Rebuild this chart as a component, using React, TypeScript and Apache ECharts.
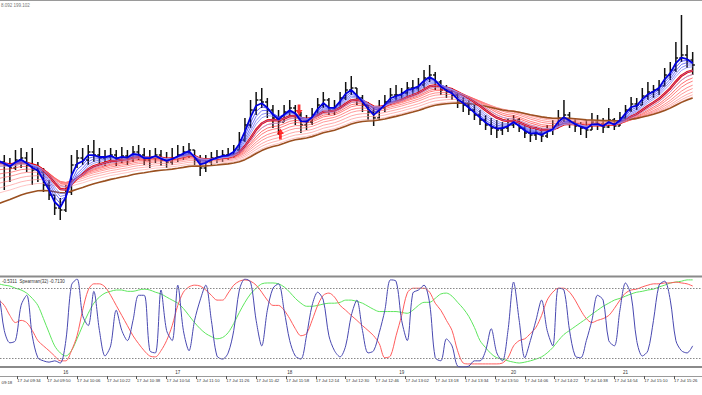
import React, { useEffect, useRef } from "react";
import * as echarts from "echarts";

// ---- time layout: minute 0 = 17 Jul 09:18, one bar every 3 minutes ----
const SESSION_START_H = 9;
const SESSION_START_M = 18;
const BAR_MINUTES = 3;
const AXIS_MIN = 6.7; // minute shown at the left edge
const AXIS_MAX = 383;
const timeTickMinutes = [16, 32, 48, 64, 80, 96, 112, 128, 144, 160, 176, 192, 208, 224, 240, 256, 272, 288, 304, 320, 336, 352, 368];
const cutTimeLabel = "09:18";

// ---- price bars ----
const highs = [
  197.90,197.90,197.88,197.85,197.82,197.90,197.92,197.88,197.92,197.78,
  197.72,197.60,197.45,197.42,197.55,197.85,197.90,197.92,197.95,198.00,
  197.92,197.90,197.92,197.90,197.93,197.90,197.94,197.95,197.92,197.90,
  197.92,197.90,197.88,197.92,197.95,197.94,197.97,197.90,197.85,197.85,
  197.88,197.90,197.90,197.92,197.95,198.08,198.22,198.40,198.48,198.52,
  198.42,198.35,198.30,198.35,198.40,198.35,198.28,198.25,198.32,198.42,
  198.48,198.42,198.40,198.48,198.58,198.64,198.52,198.45,198.38,198.32,
  198.40,198.45,198.52,198.55,198.52,198.58,198.60,198.62,198.70,198.75,
  198.68,198.60,198.55,198.52,198.48,198.43,198.40,198.35,198.30,198.25,
  198.22,198.20,198.18,198.22,198.25,198.22,198.15,198.12,198.13,198.12,
  198.15,198.20,198.30,198.40,198.28,198.22,198.18,198.20,198.27,198.25,
  198.22,198.32,198.22,198.28,198.35,198.43,198.42,198.52,198.58,198.55,
  198.60,198.72,198.78,198.98,199.25,198.95,198.88,
];
const lows = [
  197.70,197.68,197.65,197.50,197.58,197.70,197.72,197.68,197.55,197.58,
  197.48,197.40,197.25,197.20,197.28,197.45,197.72,197.75,197.75,197.78,
  197.75,197.74,197.77,197.74,197.77,197.75,197.78,197.80,197.75,197.72,
  197.77,197.74,197.72,197.75,197.78,197.80,197.82,197.75,197.64,197.68,
  197.75,197.77,197.78,197.80,197.82,197.88,197.98,198.12,198.25,198.32,
  198.22,198.12,198.05,198.20,198.24,198.15,198.07,198.10,198.15,198.25,
  198.32,198.25,198.25,198.32,198.40,198.45,198.35,198.28,198.20,198.14,
  198.20,198.28,198.35,198.38,198.40,198.42,198.45,198.48,198.52,198.58,
  198.50,198.45,198.42,198.40,198.32,198.28,198.25,198.20,198.15,198.10,
  198.05,198.02,198.05,198.08,198.12,198.08,198.02,197.98,198.00,197.98,
  198.02,198.05,198.12,198.18,198.12,198.08,198.05,198.02,198.10,198.10,
  198.07,198.12,198.10,198.14,198.20,198.28,198.30,198.35,198.40,198.42,
  198.45,198.55,198.60,198.68,198.78,198.72,198.65,
];
const closes = [
  197.80,197.82,197.78,197.75,197.72,197.80,197.82,197.75,197.70,197.68,
  197.55,197.45,197.32,197.30,197.48,197.75,197.82,197.80,197.88,197.85,
  197.82,197.83,197.85,197.80,197.84,197.82,197.88,197.85,197.80,197.82,
  197.85,197.80,197.78,197.82,197.85,197.88,197.90,197.80,197.72,197.78,
  197.82,197.83,197.85,197.85,197.90,198.00,198.15,198.30,198.40,198.38,
  198.30,198.22,198.18,198.28,198.32,198.25,198.15,198.18,198.25,198.35,
  198.40,198.30,198.32,198.42,198.50,198.52,198.42,198.35,198.28,198.22,
  198.32,198.38,198.45,198.45,198.47,198.52,198.52,198.55,198.62,198.65,
  198.58,198.50,198.48,198.45,198.38,198.35,198.30,198.25,198.20,198.15,
  198.12,198.10,198.12,198.15,198.20,198.12,198.07,198.05,198.07,198.04,
  198.10,198.12,198.22,198.25,198.18,198.14,198.12,198.10,198.18,198.16,
  198.13,198.20,198.14,198.22,198.30,198.36,198.35,198.44,198.48,198.50,
  198.54,198.65,198.70,198.82,198.85,198.80,198.75,
];

// ---- Spearman oscillator lines ----
const spearmanFast = [
  0.52,0.75,0.63,-0.17,-0.45,-0.40,0.40,0.63,-0.29,-0.79,
  -0.86,-0.89,-0.86,-0.91,-0.40,0.86,1.00,0.17,-0.06,0.72,
  -0.17,-0.75,-0.52,0.29,-0.17,-0.40,0.06,0.63,0.63,-0.63,
  -0.68,0.75,-0.17,-0.40,0.86,-0.17,-0.63,0.06,0.52,0.86,
  0.06,-0.75,-0.82,-0.68,-0.17,0.75,1.00,0.93,0.06,-0.52,
  0.29,0.79,0.89,0.29,-0.40,-0.75,-0.82,-0.29,0.40,0.70,
  0.52,-0.29,-0.63,-0.77,-0.52,0.17,0.52,-0.17,-0.68,-0.63,
  -0.22,0.29,0.98,0.95,0.06,-0.40,0.68,0.75,0.86,0.45,
  -0.79,-0.86,-0.36,-0.52,-0.98,-1.00,-0.98,-0.86,-0.86,-0.63,
  -0.13,-0.68,-0.86,-0.17,0.93,0.06,-0.79,-0.40,0.06,0.52,
  -0.17,-0.52,0.79,0.75,-0.17,-0.75,-0.79,-0.40,0.06,0.63,
  0.52,-0.40,-0.52,0.29,0.91,0.63,-0.40,-0.75,-0.63,0.06,
  0.86,0.95,0.52,-0.40,-0.63,-0.68,-0.52,
];
const spearmanMid = [
  0.63,0.56,0.52,0.40,0.17,0.01,0.06,0.01,-0.17,-0.40,
  -0.52,-0.63,-0.75,-0.86,-0.86,-0.63,-0.29,0.29,0.75,0.89,
  0.89,0.82,0.63,0.40,0.17,-0.06,-0.29,-0.47,-0.63,-0.75,
  -0.77,-0.63,-0.40,-0.06,0.40,0.70,0.82,0.86,0.84,0.75,
  0.63,0.52,0.52,0.68,0.86,0.95,0.98,0.95,0.86,0.70,
  0.52,0.40,0.40,0.29,0.10,-0.13,-0.29,-0.24,0.06,0.40,
  0.63,0.68,0.59,0.40,0.29,0.17,0.06,-0.06,-0.17,-0.29,
  -0.47,-0.79,-0.75,-0.29,0.17,0.68,0.79,0.79,0.79,0.70,
  0.45,0.29,0.06,-0.17,-0.63,-0.91,-0.93,-0.93,-0.93,-0.93,
  -0.93,-0.93,-0.91,-0.79,-0.52,-0.40,-0.36,-0.24,-0.10,0.17,
  0.52,0.70,0.79,0.79,0.70,0.52,0.29,0.10,0.01,0.06,
  0.10,0.17,0.33,0.52,0.68,0.75,0.77,0.82,0.86,0.89,
  0.89,0.91,0.91,0.93,0.91,0.89,0.84,
];
const spearmanSlow = [
  0.91,0.91,0.89,0.86,0.84,0.79,0.75,0.68,0.56,0.40,
  0.10,-0.22,-0.52,-0.68,-0.75,-0.63,-0.36,-0.06,0.22,0.45,
  0.59,0.68,0.72,0.75,0.75,0.72,0.72,0.75,0.77,0.75,
  0.70,0.66,0.59,0.52,0.45,0.33,0.17,0.01,-0.13,-0.24,
  -0.31,-0.36,-0.33,-0.22,-0.01,0.24,0.47,0.66,0.79,0.89,
  0.91,0.91,0.89,0.82,0.70,0.56,0.45,0.38,0.38,0.40,
  0.43,0.45,0.45,0.47,0.52,0.52,0.49,0.45,0.38,0.31,
  0.26,0.26,0.26,0.26,0.24,0.22,0.29,0.40,0.47,0.47,
  0.56,0.66,0.68,0.61,0.47,0.33,0.15,-0.10,-0.40,-0.56,
  -0.70,-0.79,-0.82,-0.86,-0.89,-0.91,-0.89,-0.86,-0.82,-0.77,
  -0.68,-0.56,-0.40,-0.26,-0.17,-0.08,0.01,0.10,0.20,0.29,
  0.38,0.45,0.52,0.56,0.61,0.66,0.70,0.72,0.75,0.77,
  0.82,0.86,0.91,0.93,0.95,0.98,0.98,
];
const spearmanLevels = [0.8, -0.8];

// ---- hour separators labelled in the lower strip ----
const dayMarkMinutes = [42, 102, 162, 222, 282, 342];
const dayMarkLabels = ["16", "17", "18", "19", "20", "21"];

// ---- signal arrows: [minute, price] ----
const buyArrows = [[157, 198.06]];
const sellArrows = [[167, 198.30]];

// ---- moving-average ribbons (periods in bars, seeds = value at first bar) ----
const fastPeriods = [3, 4, 5, 6, 8, 10];
const fastSeeds = [197.78, 197.76, 197.74, 197.72, 197.70, 197.68];
const leadPeriod = 2;
const leadSeed = 197.80;
const slowPeriods = [10, 12, 14, 17, 20, 24, 28, 32];
const slowSeeds = [197.74, 197.70, 197.65, 197.60, 197.55, 197.50, 197.45, 197.40];
const signalPeriod = 8;
const signalSeed = 197.74;
const trendPeriod = 34;
const trendSeed = 197.28;

const headerText = "8.092 199.102";
const indicatorText = "-0.5311  Spearman(32) -0.7130";

const fastColors = ["#1c1cf6", "#3a3af4", "#5858f2", "#7474f0", "#9090f0", "#aaaaf2"];
const slowColors = ["#ff1a1a", "#ff3030", "#ff4646", "#ff5a5a", "#ff6e6e", "#ff8282", "#ff9696", "#ffaaaa"];

function ema(values: number[], period: number, seed: number): number[] {
  const a = 2 / (period + 1);
  let e = seed;
  return values.map((v) => {
    e = e + a * (v - e);
    return e;
  });
}

function fmtTime(m: number): string {
  const total = SESSION_START_H * 60 + SESSION_START_M + Math.round(m);
  const h = Math.floor(total / 60);
  const mm = total % 60;
  return "17 Jul " + String(h).padStart(2, "0") + ":" + String(mm).padStart(2, "0");
}

export default function App() {
  const ref = useRef<HTMLDivElement>(null);

  useEffect(() => {
    document.body.style.margin = "0";
    if (!ref.current) return;
    const chart = echarts.init(ref.current, undefined, { renderer: "svg" });

    const times = closes.map((_, i) => i * BAR_MINUTES);
    const ohlc = closes.map((c, i) => {
      const o = i === 0 ? c : closes[i - 1];
      const h = Math.max(highs[i], o, c);
      const l = Math.min(lows[i], o, c);
      return [times[i], o, h, l, c];
    });

    const pair = (arr: number[]) => arr.map((v, i) => [times[i], v]);

    const series: any[] = [];

    series.push({
      type: "custom",
      xAxisIndex: 0,
      yAxisIndex: 0,
      z: 1,
      silent: true,
      clip: true,
      data: ohlc,
      renderItem: (params: any, api: any) => {
        const x = api.value(0);
        const pO = api.coord([x, api.value(1)]);
        const pH = api.coord([x, api.value(2)]);
        const pL = api.coord([x, api.value(3)]);
        const pC = api.coord([x, api.value(4)]);
        const st = { stroke: "#111", lineWidth: 1.5 };
        return {
          type: "group",
          children: [
            { type: "line", shape: { x1: pH[0], y1: pH[1], x2: pL[0], y2: pL[1] }, style: st },
            { type: "line", shape: { x1: pO[0] - 2.2, y1: pO[1], x2: pO[0], y2: pO[1] }, style: st },
            { type: "line", shape: { x1: pC[0], y1: pC[1], x2: pC[0] + 2.2, y2: pC[1] }, style: st },
          ],
        };
      },
    });

    slowPeriods.forEach((p, k) => {
      series.push({
        type: "line",
        name: "slow" + p,
        xAxisIndex: 0,
        yAxisIndex: 0,
        z: 2,
        symbol: "none",
        silent: true,
        data: pair(ema(closes, p, slowSeeds[k])),
        lineStyle: { color: slowColors[k], width: 0.7 },
      });
    });

    series.push({
      type: "line",
      name: "trend",
      xAxisIndex: 0,
      yAxisIndex: 0,
      z: 3,
      symbol: "none",
      silent: true,
      data: pair(ema(closes, trendPeriod, trendSeed)),
      lineStyle: { color: "#9a5020", width: 1.6 },
    });

    series.push({
      type: "line",
      name: "signal",
      xAxisIndex: 0,
      yAxisIndex: 0,
      z: 4,
      symbol: "none",
      silent: true,
      data: pair(ema(closes, signalPeriod, signalSeed)),
      lineStyle: { color: "#ee0000", width: 2.4 },
    });

    fastPeriods.forEach((p, k) => {
      series.push({
        type: "line",
        name: "fast" + p,
        xAxisIndex: 0,
        yAxisIndex: 0,
        z: 5,
        symbol: "none",
        silent: true,
        data: pair(ema(closes, p, fastSeeds[k])),
        lineStyle: { color: fastColors[k], width: 0.7 },
      });
    });

    series.push({
      type: "line",
      name: "lead",
      xAxisIndex: 0,
      yAxisIndex: 0,
      z: 6,
      symbol: "none",
      silent: true,
      data: pair(ema(closes, leadPeriod, leadSeed)),
      lineStyle: { color: "#0000e0", width: 1.8 },
    });

    series.push({
      type: "scatter",
      xAxisIndex: 0,
      yAxisIndex: 0,
      z: 7,
      silent: true,
      symbol: "path://M5,0 L10,5 L7,5 L7,10 L3,10 L3,5 L0,5 Z",
      symbolSize: [7, 11],
      itemStyle: { color: "#ff0000" },
      data: buyArrows,
    });
    series.push({
      type: "scatter",
      xAxisIndex: 0,
      yAxisIndex: 0,
      z: 7,
      silent: true,
      symbol: "path://M3,0 L7,0 L7,5 L10,5 L5,10 L0,5 L3,5 Z",
      symbolSize: [7, 11],
      itemStyle: { color: "#ff0000" },
      data: sellArrows,
    });

    series.push({
      type: "line",
      name: "spearmanSlow",
      xAxisIndex: 1,
      yAxisIndex: 1,
      symbol: "none",
      silent: true,
      smooth: 0.3,
      data: pair(spearmanSlow),
      lineStyle: { color: "#5ee65e", width: 1 },
      markLine: {
        silent: true,
        symbol: "none",
        label: { show: false },
        lineStyle: { color: "#888", type: [1.5, 1.5], width: 1 },
        data: spearmanLevels.map((v) => ({ yAxis: v })),
      },
    });
    series.push({
      type: "line",
      name: "spearmanMid",
      xAxisIndex: 1,
      yAxisIndex: 1,
      symbol: "none",
      silent: true,
      smooth: 0.3,
      data: pair(spearmanMid),
      lineStyle: { color: "#ff5c5c", width: 1 },
    });
    series.push({
      type: "line",
      name: "spearmanFast",
      xAxisIndex: 1,
      yAxisIndex: 1,
      symbol: "none",
      silent: true,
      smooth: 0.3,
      data: pair(spearmanFast),
      lineStyle: { color: "#4848b0", width: 1 },
    });

    const labelFont = { fontFamily: "Liberation Sans", color: "#333" };

    chart.setOption({
      animation: false,
      backgroundColor: "#ffffff",
      grid: [
        { left: 0, right: 0, top: 0, height: 274 },
        { left: 0, right: 0, top: 279, height: 88 },
      ],
      xAxis: [
        { gridIndex: 0, type: "value", min: AXIS_MIN, max: AXIS_MAX, show: false },
        {
          gridIndex: 1,
          type: "value",
          min: AXIS_MIN,
          max: AXIS_MAX,
          position: "bottom",
          axisLine: { show: true, onZero: false, lineStyle: { color: "#8a8a8a", width: 2 } },
          axisTick: { show: false },
          splitLine: { show: false },
          axisLabel: {
            customValues: dayMarkMinutes,
            formatter: (v: number) => {
              const k = dayMarkMinutes.indexOf(Math.round(v));
              return k >= 0 ? dayMarkLabels[k] : "";
            },
            fontSize: 4.5,
            margin: 2.5,
            ...labelFont,
          },
        },
        {
          gridIndex: 1,
          type: "value",
          min: AXIS_MIN,
          max: AXIS_MAX,
          position: "bottom",
          offset: 9,
          axisLine: { show: true, onZero: false, lineStyle: { color: "#9a9a9a", width: 1 } },
          axisTick: { show: true, customValues: timeTickMinutes, length: 3, lineStyle: { color: "#555", width: 1 } },
          splitLine: { show: false },
          axisLabel: {
            customValues: timeTickMinutes,
            formatter: (v: number) => fmtTime(v),
            fontSize: 4.3,
            margin: 2,
            align: "left",
            ...labelFont,
          },
        },
      ],
      yAxis: [
        { gridIndex: 0, type: "value", min: 196.66, max: 199.40, show: false },
        { gridIndex: 1, type: "value", min: -1, max: 1, show: false },
      ],
      graphic: [
        { type: "rect", shape: { x: 0, y: 0, width: 702, height: 1 }, style: { fill: "#9a9a9a" }, silent: true },
        { type: "rect", shape: { x: 0, y: 275.5, width: 702, height: 2 }, style: { fill: "#8a8a8a" }, silent: true },
        {
          type: "text",
          x: 1,
          y: 2.5,
          style: { text: headerText, fontSize: 4.5, fill: "#777", fontFamily: "Liberation Sans" },
          silent: true,
        },
        {
          type: "text",
          x: 2,
          y: 278.5,
          style: { text: indicatorText, fontSize: 4.5, fill: "#333", fontFamily: "Liberation Sans" },
          silent: true,
        },
        {
          type: "text",
          x: 1.5,
          y: 380,
          style: { text: cutTimeLabel, fontSize: 4.3, fill: "#333", fontFamily: "Liberation Sans" },
          silent: true,
        },
      ],
      series,
    });

    return () => {
      chart.dispose();
    };
  }, []);

  return <div ref={ref} style={{ width: 702, height: 395 }} />;
}
